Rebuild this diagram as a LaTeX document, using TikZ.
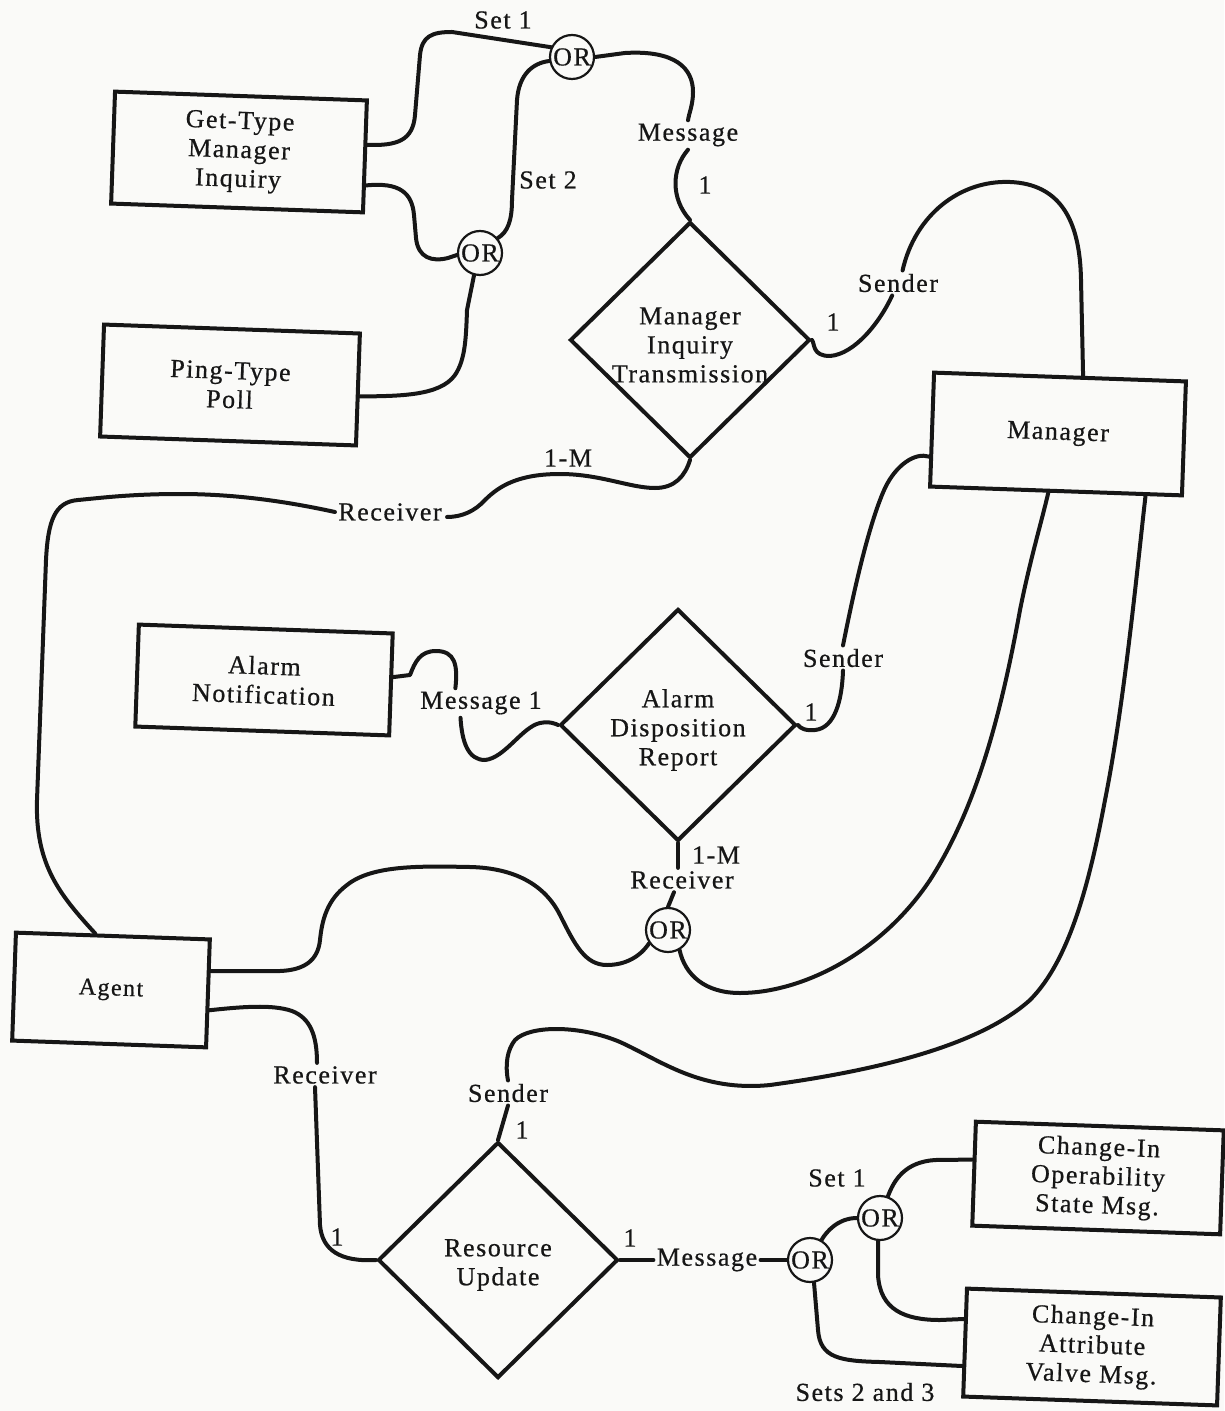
\documentclass[tikz,border=0pt]{standalone}
\usepackage{fontspec}
\setmainfont{Liberation Serif}[LetterSpace=6, FakeBold=0.6]
\usetikzlibrary{shapes.geometric,calc}
\definecolor{paper}{RGB}{250,250,248}
\definecolor{ink}{RGB}{22,22,22}
\begin{document}
\begin{tikzpicture}[x=0.5pt,y=-0.5pt,
  every node/.style={font=\fontsize{13}{14.5}\selectfont, text=ink},
  entity/.style={draw=ink, line width=2pt, rectangle, align=center, inner sep=0pt, rotate=-2},
  rel/.style={draw=ink, line width=2pt, diamond, inner sep=0pt},
  reltext/.style={align=center, inner sep=0pt, yshift=-2.5pt},
  orgate/.style={draw=ink, line width=1.1pt, circle, inner sep=0pt, minimum size=22pt,
                 font=\fontsize{13}{13}\selectfont},
  role/.style={inner sep=1.5pt},
  conn/.style={draw=ink, line width=2pt, line cap=round, line join=round},
]
\useasboundingbox (0,0) rectangle (1224,1411);
\fill[paper] (0,0) rectangle (1224,1411);

% ---------- entities ----------
\node[entity, minimum width=126pt, minimum height=56pt] (gt) at (239,152) {Get-Type\\Manager\\Inquiry};
\node[entity, minimum width=128pt, minimum height=56pt] (pp) at (230,385) {Ping-Type\\Poll};
\node[entity, minimum width=126pt, minimum height=57pt] (mgr) at (1058,434) {Manager};
\node[entity, minimum width=127pt, minimum height=51pt] (an) at (264,680) {Alarm\\Notification};
\node[entity, minimum width=97pt, minimum height=54pt, font=\fontsize{12}{12}\selectfont] (ag) at (111,990) {Agent};
\node[entity, minimum width=124pt, minimum height=52pt] (cos) at (1098,1178) {Change-In\\Operability\\State Msg.};
\node[entity, minimum width=127pt, minimum height=54pt] (cav) at (1092,1347) {Change-In\\Attribute\\Valve Msg.};

% ---------- relationships ----------
\node[rel, minimum width=120pt, minimum height=118pt] (mit) at (690,340) {};
\node[reltext] (mitT) at (mit.center) {Manager\\Inquiry\\Transmission};
\node[rel, minimum width=118pt, minimum height=116pt] (adr) at (678,725) {};
\node[reltext] (adrT) at (adr.center) {Alarm\\Disposition\\Report};
\node[rel, minimum width=120pt, minimum height=118pt] (ru) at (498,1260) {};
\node[reltext] (ruT) at (ru.center) {Resource\\Update};

% ---------- OR gates ----------
\node[orgate] (or1) at (572,57) {OR};
\node[orgate] (or2) at (480,253) {OR};
\node[orgate] (or3) at (668,930) {OR};
\node[orgate] (or4) at (880,1218) {OR};
\node[orgate] (or5) at (810,1260) {OR};

% ---------- role and cardinality labels ----------
\node[role] (set1a) at (503,20) {Set 1};
\node[role] (set2a) at (548,180) {Set 2};
\node[role] (msgT) at (688,135) {Message};
\node[role] (oneT) at (705,185) {1};
\node[role] (oneM) at (833,322) {1};
\node[role] (sndM) at (898,283) {Sender};
\node[role] (mT) at (568,458) {1-M};
\node[role] (rcvM) at (390,512) {Receiver};
\node[role] (msgA) at (481,703) {Message 1};
\node[role] (sndA) at (843,658) {Sender};
\node[role] (oneA) at (811,712) {1};
\node[role] (mA) at (716,855) {1-M};
\node[role] (rcvA) at (682,880) {Receiver};
\node[role] (rcvR) at (325,1075) {Receiver};
\node[role] (sndR) at (508,1093) {Sender};
\node[role] (oneR) at (522,1130) {1};
\node[role] (oneL) at (337,1237) {1};
\node[role] (oneE) at (630,1238) {1};
\node[role] (msgR) at (707,1260) {Message};
\node[role] (set1b) at (837,1178) {Set 1};
\node[role] (sets) at (865,1392) {Sets 2 and 3};

% ---------- connectors: manager inquiry ----------
\draw[conn] ($(gt.north east)!0.4!(gt.south east)$) .. controls (398,146) and (413,140) .. (415,115)
  -- (420,55) .. controls (422,36) and (432,32) .. (452,32) -- (or1.155);
\draw[conn] ($(gt.north east)!0.75!(gt.south east)$) .. controls (400,182) and (412,193) .. (414,215)
  -- (416,238) .. controls (418,258) and (432,262) .. (448,258) -- (or2.185);
\draw[conn] (or2.40) .. controls (508,232) and (512,220) .. (512,200)
  -- (517,100) .. controls (519,74) and (533,63) .. (or1.190);
\draw[conn] ($(pp.north east)!0.56!(pp.south east)$) .. controls (400,396) and (440,396) .. (455,375)
  .. controls (465,360) and (466,340) .. (467,310) -- (or2.-105);
\draw[conn] (or1.east) -- (625,53) .. controls (675,50) and (693,68) .. (693,92)
  .. controls (693,105) and (689,113) .. (msgT.north);
\draw[conn] (msgT.south) .. controls (672,168) and (670,198) .. (mit.north);
\draw[conn] (mit.east) .. controls (815,344) and (812,356) .. (830,356)
  .. controls (855,354) and (880,322) .. (sndM.-115);
\draw[conn] (sndM.70) .. controls (915,215) and (960,180) .. (1010,182)
  .. controls (1060,184) and (1080,220) .. (1081,280) -- ($(mgr.north west)!0.59!(mgr.north east)$);
\draw[conn] (mit.south) .. controls (685,476) and (675,488) .. (655,488)
  .. controls (630,488) and (600,474) .. (560,474) .. controls (520,474) and (500,485) .. (485,500)
  .. controls (475,511) and (462,517) .. ($(rcvM.east)+(2,5)$);
\draw[conn] (rcvM.west) .. controls (280,500) and (230,494) .. (180,494)
  .. controls (130,494) and (100,498) .. (78,500) .. controls (55,502) and (48,520) .. (46,560)
  -- (37,800) .. controls (35,865) and (60,895) .. ($(ag.north west)!0.41!(ag.north east)$);

% ---------- connectors: alarm disposition ----------
\draw[conn] ($(an.north east)!0.43!(an.south east)$) -- (410,675) .. controls (415,662) and (420,651) .. (436,651)
  .. controls (455,651) and (458,665) .. ($(msgA.north west)!0.3!(msgA.north east)$);
\draw[conn] ($(msgA.south west)!0.34!(msgA.south east)$) .. controls (462,742) and (468,760) .. (485,760)
  .. controls (505,758) and (522,727) .. (540,723) .. controls (550,721) and (556,724) .. (adr.west);
\draw[conn] (adr.east) .. controls (800,728) and (805,731) .. (815,730)
  .. controls (835,728) and (842,700) .. (sndA.south);
\draw[conn] (sndA.north) .. controls (852,600) and (868,525) .. (885,488)
  .. controls (896,465) and (915,452) .. ($(mgr.north west)!0.73!(mgr.south west)$);
\draw[conn] (adr.south) -- (adr.south |- rcvA.north);
\draw[conn] ($(rcvA.south)+(-8,0)$) -- (or3.north);
\draw[conn] (or3.215) .. controls (640,957) and (625,965) .. (607,965)
  .. controls (585,965) and (575,945) .. (560,915) .. controls (545,885) and (515,868) .. (470,867)
  .. controls (420,866) and (372,865) .. (347,885) .. controls (327,900) and (322,920) .. (320,940)
  .. controls (318,960) and (305,970) .. (280,971) -- ($(ag.north east)!0.3!(ag.south east)$);
\draw[conn] (or3.-60) .. controls (685,975) and (705,993) .. (740,993)
  .. controls (800,993) and (880,955) .. (930,880) .. controls (975,810) and (1000,720) .. (1020,610)
  .. controls (1030,560) and (1042,520) .. ($(mgr.south west)!0.47!(mgr.south east)$);

% ---------- connectors: resource update ----------
\draw[conn] ($(mgr.south west)!0.85!(mgr.south east)$) .. controls (1138,560) and (1125,700) .. (1105,800)
  .. controls (1090,880) and (1070,960) .. (1030,1000) .. controls (980,1045) and (880,1070) .. (770,1085)
  .. controls (700,1092) and (660,1060) .. (620,1042) .. controls (580,1025) and (530,1025) .. (515,1040)
  .. controls (507,1050) and (505,1065) .. (sndR.north);
\draw[conn] (sndR.south) -- (ru.north);
\draw[conn] ($(ag.north east)!0.65!(ag.south east)$) .. controls (240,1007) and (272,1004) .. (292,1011)
  .. controls (310,1018) and (317,1035) .. ($(rcvR.north)+(-8,0)$);
\draw[conn] ($(rcvR.south)+(-10,0)$) -- (320,1225) .. controls (322,1250) and (340,1262) .. (ru.west);
\draw[conn] (ru.east) -- (msgR.west);
\draw[conn] (msgR.east) -- (or5.west);
\draw[conn] (or5.60) .. controls (826,1232) and (838,1218) .. (or4.west);
\draw[conn] (or4.70) .. controls (894,1180) and (905,1162) .. (935,1160)
  -- ($(cos.north west)!0.37!(cos.south west)$);
\draw[conn] (or4.-95) -- (878,1275) .. controls (880,1310) and (905,1320) .. (940,1320)
  -- ($(cav.north west)!0.29!(cav.south west)$);
\draw[conn] (or5.-80) -- (818,1330) .. controls (820,1358) and (840,1361) .. (880,1362)
  -- ($(cav.north west)!0.71!(cav.south west)$);
\end{tikzpicture}
\end{document}
